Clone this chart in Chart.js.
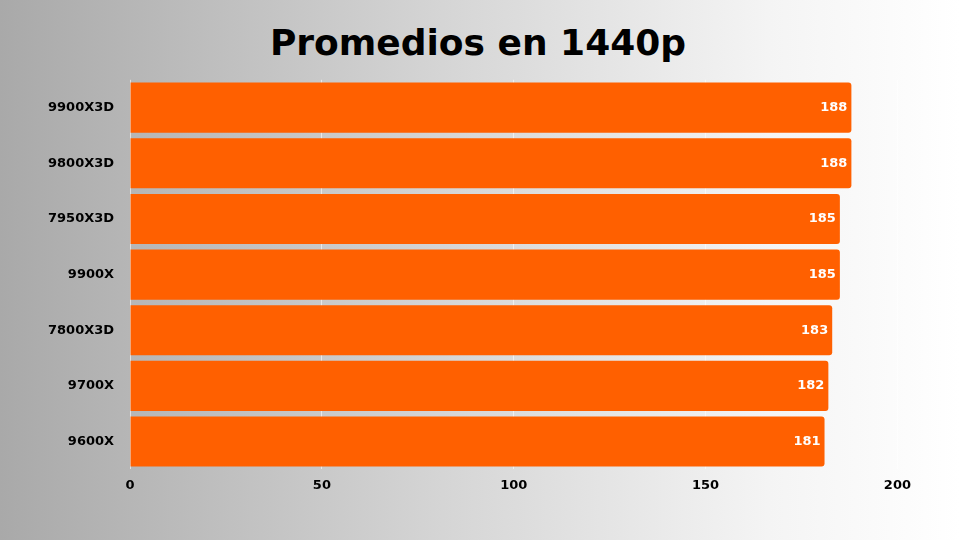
<!DOCTYPE html>
<html>
<head>
<meta charset="utf-8">
<script src="https://cdn.jsdelivr.net/npm/chart.js@4"></script>
<style>
  html, body { margin: 0; padding: 0; }
  body {
    width: 960px; height: 540px; overflow: hidden;
    background: linear-gradient(90deg, #a9a9a9 0%, #d4d4d4 45%, #f4f4f4 80%, #ffffff 100%);
    font-family: "DejaVu Sans", sans-serif;
  }
  h1 {
    position: absolute; left: 0; top: 22px; width: 956px; margin: 0;
    text-align: center; font-size: 36px; font-weight: 900; color: #000;
    font-family: "DejaVu Sans", sans-serif;
  }
  #wrap { position: absolute; left: 40px; top: 64px; width: 879px; height: 437px; }
</style>
</head>
<body>
<h1>Promedios en 1440p</h1>
<div id="wrap"><canvas id="chart"></canvas></div>
<script>
const cpus = ['9900X3D', '9800X3D', '7950X3D', '9900X', '7800X3D', '9700X', '9600X'];
const fps = [188, 188, 185, 185, 183, 182, 181];
const xTicks = [0, 50, 100, 150, 200];

// value labels at the end of each bar
const valueLabels = {
  id: 'valueLabels',
  afterDatasetsDraw(chart) {
    const ctx = chart.ctx;
    const meta = chart.getDatasetMeta(0);
    ctx.save();
    ctx.fillStyle = '#fff';
    ctx.font = 'bold 13px "DejaVu Sans"';
    ctx.textAlign = 'right';
    ctx.textBaseline = 'middle';
    meta.data.forEach((bar, i) => {
      ctx.fillText(fps[i], bar.x - 4, bar.y);
    });
    ctx.restore();
  }
};

new Chart(document.getElementById('chart'), {
  type: 'bar',
  data: {
    labels: cpus,
    datasets: [{
      data: fps,
      backgroundColor: '#ff6000',
      borderRadius: 3,
      categoryPercentage: 1,
      barPercentage: 0.9
    }]
  },
  options: {
    indexAxis: 'y',
    responsive: true,
    maintainAspectRatio: false,
    animation: false,
    layout: { padding: { top: 0, right: 0 } },
    plugins: { legend: { display: false }, tooltip: { enabled: false } },
    scales: {
      x: {
        min: 0, max: 200,
        afterBuildTicks: axis => { axis.ticks = xTicks.map(v => ({ value: v })); },
        grid: { color: 'rgba(255,255,255,0.6)', drawTicks: false },
        border: { display: false },
        ticks: { color: '#000', font: { family: 'DejaVu Sans', weight: 'bold', size: 13 }, padding: 8 }
      },
      y: {
        grid: { display: false },
        border: { display: false },
        ticks: { color: '#000', font: { family: 'DejaVu Sans', weight: 'bold', size: 13 }, padding: 8 }
      }
    }
  },
  plugins: [valueLabels]
});
</script>
</body>
</html>
